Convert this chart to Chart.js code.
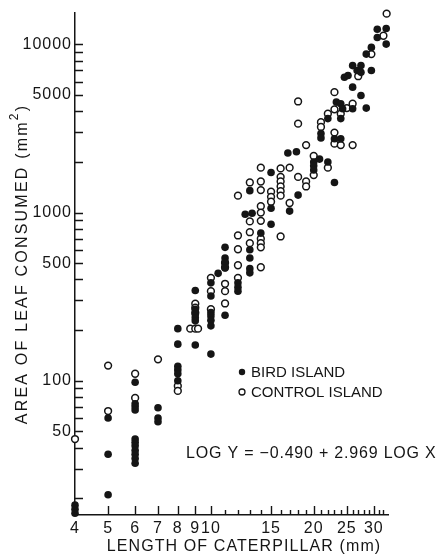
<!DOCTYPE html>
<html>
<head>
<meta charset="utf-8">
<script src="https://cdn.jsdelivr.net/npm/chart.js@4.4.1/dist/chart.umd.min.js"></script>
<style>
  html, body { margin: 0; padding: 0; background: #fff; }
  canvas { display: block; }
</style>
</head>
<body>
<canvas id="leafChart" width="437" height="554"></canvas>
<script>
// Caterpillar length (mm) vs. leaf area consumed (mm^2)
const birdLength = [
  4, 4, 4,
  5, 5, 5,
  6, 6, 6, 6, 6, 6, 6, 6, 6, 6, 6,
  7, 7, 7,
  8, 8, 8, 8, 8, 8,
  9, 9, 9, 9, 9, 9,
  10, 10, 10, 10, 10, 10, 10,
  10.5,
  11, 11, 11, 11, 11,
  12, 12, 12,
  12.6, 13.2,
  13, 13, 13, 13, 13,
  14,
  15, 15, 15,
  16.8, 17,
  17.8, 18,
  20, 20, 20,
  20.8, 21, 21,
  22, 22,
  23, 23,
  23.3, 24, 24.3, 24, 24,
  24.6, 25.2,
  26, 26, 26,
  26.8,
  27.5, 27.5, 27.5,
  28.5, 28.5,
  29.5, 29.5,
  30.7, 30.7,
  32.6, 32.6
];
const birdArea = [
  18.2, 17.2, 16.3,
  60, 36.5, 21,
  98, 73, 70, 67, 45, 43, 41, 38.5, 36.5, 34.5, 32.3,
  69, 60, 57,
  204, 165, 122, 116, 110, 100,
  344, 266, 248, 237, 227, 163,
  382, 319, 254, 243, 229, 212, 144,
  435,
  621, 537, 508, 468, 245,
  382, 360, 341,
  977, 990,
  1350, 601, 537, 464, 438,
  755,
  1730, 1060, 853,
  2260, 1020,
  2300, 1270,
  2000, 1900, 1790,
  2080, 2950, 2780,
  2000, 3620,
  1510, 2750,
  4540, 4440, 4140, 3620, 2750,
  6380, 6530,
  5570, 4140, 7480,
  6990,
  7480, 6820, 4970,
  8760, 4180,
  9600, 6990,
  12310, 11000,
  12430, 10040
];
const controlLength = [
  4,
  5, 5,
  6, 6,
  7,
  8, 8,
  8.7, 9, 9.17, 9, 9, 9,
  10, 10, 10,
  11, 11, 11, 11, 11,
  12, 12, 12, 12, 12,
  13, 13, 13, 13,
  14, 14, 14, 14, 14, 14, 14, 14, 14, 14,
  15, 15, 15,
  16, 16, 16, 16, 16, 16, 16,
  17, 17,
  18, 18, 18,
  19, 19, 19,
  20, 20,
  21, 21,
  22, 22,
  23, 23, 23, 23,
  24, 24,
  25,
  26, 26,
  27,
  29.5,
  32,
  32.7
];
const controlArea = [
  45,
  123, 66,
  110, 79,
  134,
  93, 87,
  204, 204, 204, 287, 272, 254,
  409, 341, 266,
  501, 473, 377, 341, 288,
  1260, 731, 605, 486, 409,
  1510, 886, 764, 658,
  1850, 1530, 1360, 1090, 1000, 893, 699, 658, 621, 473,
  1330, 1240, 1160,
  1830, 1630, 1530, 1430, 1340, 1260, 721,
  1850, 1140,
  4580, 3380, 1630,
  2520, 1530, 1430,
  2170, 1670,
  3450, 3230,
  3870, 1850,
  5200, 4110, 2990, 2570,
  3870, 2520,
  4180,
  4440, 2520,
  6470,
  8760,
  11260,
  15240
];

const xTicks = [4, 5, 6, 7, 8, 9, 10, 11, 12, 13, 14, 15, 16, 17, 18, 19, 20,
  21, 22, 23, 24, 25, 26, 27, 28, 29, 30, 31, 32];
const xLabels = [4, 5, 6, 7, 8, 9, 10, 15, 20, 25, 30];
const yTicks = [20, 30, 40, 50, 60, 70, 80, 90, 100, 200, 300, 400, 500, 600, 700, 800, 900,
  1000, 2000, 3000, 4000, 5000, 6000, 7000, 8000, 9000, 10000];
const yLabels = [50, 100, 500, 1000, 5000, 10000];

const FONT = '"Liberation Sans", Arial, sans-serif';
const INK = '#151515';

function toPoints(xs, ys) {
  return xs.map((x, i) => ({ x: x, y: ys[i] }));
}

// letter spacing for all canvas text
const spacing = {
  id: 'spacing',
  beforeDraw(chart) {
    chart.ctx.letterSpacing = '1px';
  }
};

// inward tick marks, like the original figure
const tickMarks = {
  id: 'tickMarks',
  afterDraw(chart) {
    const ctx = chart.ctx;
    const xs = chart.scales.x, ys = chart.scales.y;
    const area = chart.chartArea;
    ctx.save();
    ctx.strokeStyle = INK;
    ctx.lineWidth = 1.4;
    ctx.beginPath();
    xTicks.forEach(v => {
      const px = Math.round(xs.getPixelForValue(v)) + 0.5;
      const len = xLabels.includes(v) ? 9 : 5;
      ctx.moveTo(px, area.bottom);
      ctx.lineTo(px, area.bottom - len);
    });
    yTicks.forEach(v => {
      const py = Math.round(ys.getPixelForValue(v)) + 0.5;
      ctx.moveTo(area.left, py);
      ctx.lineTo(area.left + 8, py);
    });
    ctx.stroke();
    ctx.restore();
  }
};

// axis titles, legend and the regression equation
const labels = {
  id: 'labels',
  afterDraw(chart) {
    const ctx = chart.ctx;
    ctx.save();
    ctx.fillStyle = INK;

    // x title
    ctx.font = '16px ' + FONT;
    ctx.letterSpacing = '1.1px';
    ctx.textAlign = 'center';
    ctx.textBaseline = 'middle';
    ctx.fillText('LENGTH OF CATERPILLAR (mm)', 244, 547);

    // y title, rotated, with a raised 2
    ctx.save();
    ctx.translate(27, 264);
    ctx.rotate(-Math.PI / 2);
    ctx.textAlign = 'left';
    ctx.textBaseline = 'alphabetic';
    ctx.letterSpacing = '2.2px';
    ctx.font = '16px ' + FONT;
    const main = 'AREA OF LEAF CONSUMED (mm';
    const w1 = ctx.measureText(main).width;
    ctx.font = '12px ' + FONT;
    const w2 = ctx.measureText('2').width;
    ctx.font = '16px ' + FONT;
    const w3 = ctx.measureText(')').width;
    let start = -(w1 + w2 + w3) / 2;
    ctx.fillText(main, start, 0);
    ctx.font = '12px ' + FONT;
    ctx.fillText('2', start + w1, -9);
    ctx.font = '16px ' + FONT;
    ctx.fillText(')', start + w1 + w2, 0);
    ctx.restore();

    // legend
    ctx.font = '15px ' + FONT;
    ctx.letterSpacing = '0px';
    ctx.textAlign = 'left';
    ctx.textBaseline = 'middle';
    ctx.beginPath();
    ctx.arc(242, 372, 3.2, 0, Math.PI * 2);
    ctx.fill();
    ctx.fillText('BIRD ISLAND', 251, 373);
    ctx.beginPath();
    ctx.arc(242, 392, 3, 0, Math.PI * 2);
    ctx.lineWidth = 1.3;
    ctx.strokeStyle = INK;
    ctx.stroke();
    ctx.fillText('CONTROL ISLAND', 251, 393);

    // equation
    ctx.font = '16px ' + FONT;
    ctx.letterSpacing = '0.8px';
    ctx.fillText('LOG Y = \u22120.490 + 2.969 LOG X', 186, 454);
    ctx.restore();
  }
};

const ctx = document.getElementById('leafChart').getContext('2d');
new Chart(ctx, {
  type: 'scatter',
  data: {
    datasets: [
      {
        label: 'BIRD ISLAND',
        data: toPoints(birdLength, birdArea),
        clip: false,
        pointRadius: 3.8,
        pointBackgroundColor: INK,
        pointBorderColor: INK,
        pointBorderWidth: 0
      },
      {
        label: 'CONTROL ISLAND',
        data: toPoints(controlLength, controlArea),
        clip: false,
        pointRadius: 3.4,
        pointBackgroundColor: '#fff',
        pointBorderColor: INK,
        pointBorderWidth: 1.5
      }
    ]
  },
  options: {
    responsive: false,
    animation: false,
    layout: { padding: { top: 10, right: 49, left: 0, bottom: 0 } },
    plugins: {
      legend: { display: false },
      tooltip: { enabled: false }
    },
    scales: {
      x: {
        type: 'logarithmic',
        position: 'bottom',
        min: 4,
        max: 33,
        grid: { display: false, drawTicks: false },
        border: { display: true, color: INK, width: 1.5 },
        afterBuildTicks: scale => { scale.ticks = xTicks.map(v => ({ value: v })); },
        afterFit: scale => { scale.height = 39; },
        ticks: {
          autoSkip: false,
          maxRotation: 0,
          padding: 4,
          color: INK,
          font: { family: FONT, size: 16 },
          callback: v => xLabels.includes(v) ? String(v) : ''
        }
      },
      y: {
        type: 'logarithmic',
        position: 'left',
        min: 15.9,
        max: 15460,
        grid: { display: false, drawTicks: false },
        border: { display: true, color: INK, width: 1.5 },
        afterBuildTicks: scale => { scale.ticks = yTicks.map(v => ({ value: v })); },
        afterFit: scale => { scale.width = 75; },
        ticks: {
          autoSkip: false,
          padding: 3,
          color: INK,
          font: { family: FONT, size: 16 },
          callback: v => yLabels.includes(v) ? String(v) : ''
        }
      }
    }
  },
  plugins: [spacing, tickMarks, labels]
});
</script>
</body>
</html>
